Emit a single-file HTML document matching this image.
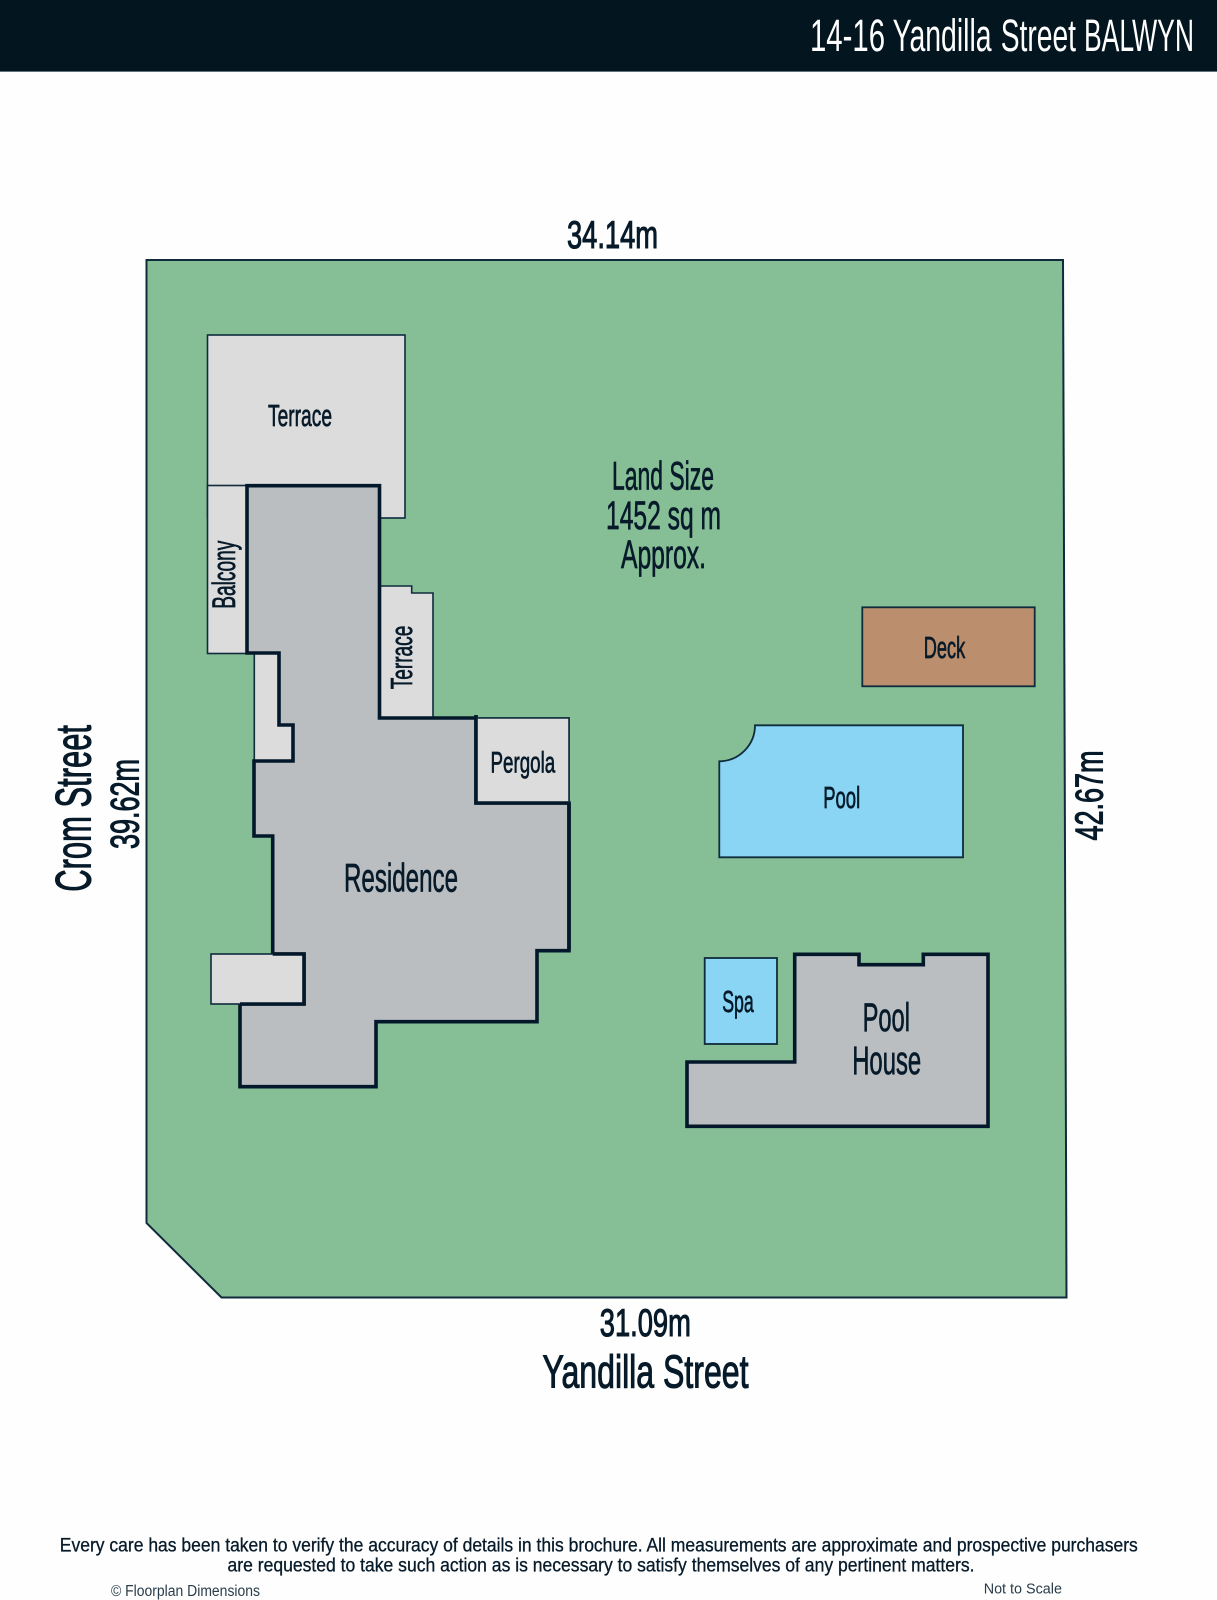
<!DOCTYPE html>
<html lang="en">
<head>
<meta charset="utf-8">
<title>14-16 Yandilla Street BALWYN</title>
<style>
html,body{margin:0;padding:0;background:#fdfefd;width:1217px;height:1600px;overflow:hidden}
svg{display:block}
text{font-family:"Liberation Sans",sans-serif;fill:#071a2a;stroke:#071a2a;stroke-width:.7px;paint-order:stroke}
.dim{stroke-width:1.1px}
</style>
</head>
<body>
<svg xmlns="http://www.w3.org/2000/svg" width="1217" height="1600" viewBox="0 0 1217 1600">
<rect width="1217" height="1600" fill="#fdfefd"/>
<rect width="1217" height="72" fill="#03151f"/>
<rect y="71" width="1217" height="1" fill="#5d7480"/>
<g font-size="45" lengthAdjust="spacingAndGlyphs" style="fill:#fff">
<text x="810" y="51" font-size="45" textLength="75" lengthAdjust="spacingAndGlyphs" style="fill:#fff;stroke:none">14-16</text>
<text x="892.6" y="51" font-size="45" textLength="99" lengthAdjust="spacingAndGlyphs" style="fill:#fff;stroke:none">Yandilla</text>
<text x="1000.7" y="51" font-size="45" textLength="75.3" lengthAdjust="spacingAndGlyphs" style="fill:#fff;stroke:none">Street</text>
<text x="1084" y="51" font-size="45" textLength="110" lengthAdjust="spacingAndGlyphs" style="fill:#fff;stroke:none">BALWYN</text>
</g>

<polygon points="146.5,260 1063,260 1066.5,1297.5 221.5,1297.5 146.5,1223" fill="#86bf95" stroke="#0f2b3c" stroke-width="2"/>

<g fill="#dcdcdc" stroke="#0f2b3c" stroke-width="1.6">
<rect x="207.5" y="335" width="197.5" height="183"/>
<rect x="207.5" y="485.5" width="40" height="168"/>
<rect x="254.3" y="653" width="40" height="108"/>
<polygon points="379.5,586 411.7,586 411.7,593 433,593 433,718 379.5,718"/>
<rect x="476" y="718" width="93" height="85"/>
</g>

<polygon points="247,485.7 379.5,485.7 379.5,718 476,718 476,803 569,803 569,950.7 537,950.7 537,1021.7 376,1021.7 376,1086.7 240,1086.7 240,1004 304,1004 304,954 272.7,954 272.7,836 254,836 254,761 293,761 293,725 279,725 279,653 247,653" fill="#babec0" stroke="#03182a" stroke-width="3.6" stroke-linejoin="miter"/>
<path d="M476 718H569V803H476Z" fill="#dcdcdc"/>
<path d="M476 715V803H569" fill="none" stroke="#03182a" stroke-width="3.6"/>
<path d="M476 718H569V803" fill="none" stroke="#0f2b3c" stroke-width="1.6"/>
<path d="M569 803V950" fill="none" stroke="#03182a" stroke-width="3.6"/>

<rect x="211" y="954" width="93" height="50" fill="#dcdcdc" stroke="#0f2b3c" stroke-width="1.6"/>
<path d="M272.7 954H304V1004H240" fill="none" stroke="#03182a" stroke-width="3.6"/>

<rect x="862.3" y="607.3" width="172.4" height="79" fill="#bb8f6d" stroke="#0f2b3c" stroke-width="1.8"/>
<path d="M719.3 761.3A36 36 0 0 0 755 725.3H963V857.3H719.3Z" fill="#8ad4f4" stroke="#0f2b3c" stroke-width="1.8"/>
<rect x="704.7" y="958" width="72.3" height="86" fill="#8ad4f4" stroke="#0f2b3c" stroke-width="1.8"/>
<polygon points="687,1062 794.7,1062 794.7,954.3 859,954.3 859,964.7 923.3,964.7 923.3,954.3 988,954.3 988,1126.3 687,1126.3" fill="#babec0" stroke="#03182a" stroke-width="3.6"/>

<text class="dim" x="567" y="248" font-size="39" textLength="91" lengthAdjust="spacingAndGlyphs">34.14m</text>
<text x="268" y="425.8" font-size="31" textLength="64" lengthAdjust="spacingAndGlyphs">Terrace</text>
<text transform="translate(234.8,608.7) rotate(-90)" font-size="32" textLength="68" lengthAdjust="spacingAndGlyphs">Balcony</text>
<text transform="translate(412.2,689.3) rotate(-90)" font-size="31" textLength="63.6" lengthAdjust="spacingAndGlyphs">Terrace</text>
<text x="490.5" y="772.5" font-size="30" textLength="64.7" lengthAdjust="spacingAndGlyphs">Pergola</text>
<text x="344" y="891.7" font-size="40" textLength="114" lengthAdjust="spacingAndGlyphs">Residence</text>
<text x="612" y="489.3" font-size="40" textLength="102" lengthAdjust="spacingAndGlyphs">Land Size</text>
<text x="606" y="529" font-size="40" textLength="115" lengthAdjust="spacingAndGlyphs">1452 sq m</text>
<text x="621" y="568" font-size="40" textLength="85" lengthAdjust="spacingAndGlyphs">Approx.</text>
<text class="dim" transform="translate(90.3,891.7) rotate(-90)" font-size="50" textLength="166.7" lengthAdjust="spacingAndGlyphs">Crom Street</text>
<text class="dim" transform="translate(138.3,849) rotate(-90)" font-size="39.5" textLength="90" lengthAdjust="spacingAndGlyphs">39.62m</text>
<text class="dim" transform="translate(1102.7,840.5) rotate(-90)" font-size="39" textLength="90" lengthAdjust="spacingAndGlyphs">42.67m</text>
<text x="923.8" y="658" font-size="31" textLength="41.4" lengthAdjust="spacingAndGlyphs">Deck</text>
<text x="823.2" y="808" font-size="31" textLength="37" lengthAdjust="spacingAndGlyphs">Pool</text>
<text x="722.2" y="1012" font-size="31" textLength="31.6" lengthAdjust="spacingAndGlyphs">Spa</text>
<text x="862.6" y="1031" font-size="39.5" textLength="47.4" lengthAdjust="spacingAndGlyphs">Pool</text>
<text x="852.2" y="1074" font-size="39.5" textLength="69" lengthAdjust="spacingAndGlyphs">House</text>
<text class="dim" x="599.8" y="1336" font-size="39" textLength="91" lengthAdjust="spacingAndGlyphs">31.09m</text>
<text class="dim" x="542.5" y="1387.3" font-size="46" textLength="206" lengthAdjust="spacingAndGlyphs">Yandilla Street</text>
<text x="59.8" y="1551.7" font-size="19" textLength="1078" lengthAdjust="spacingAndGlyphs" style="stroke-width:.3px">Every care has been taken to verify the accuracy of details in this brochure. All measurements are approximate and prospective purchasers</text>
<text x="227.5" y="1571.7" font-size="19" textLength="747" lengthAdjust="spacingAndGlyphs" style="stroke-width:.3px">are requested to take such action as is necessary to satisfy themselves of any pertinent matters.</text>
<text x="111" y="1596" font-size="15.5" textLength="149" lengthAdjust="spacingAndGlyphs" style="stroke:none;fill:#2a3c4a">© Floorplan Dimensions</text>
<text x="983.7" y="1593.3" font-size="15" textLength="78.3" lengthAdjust="spacingAndGlyphs" style="stroke:none;fill:#2a3c4a">Not to Scale</text>
</svg>
</body>
</html>
